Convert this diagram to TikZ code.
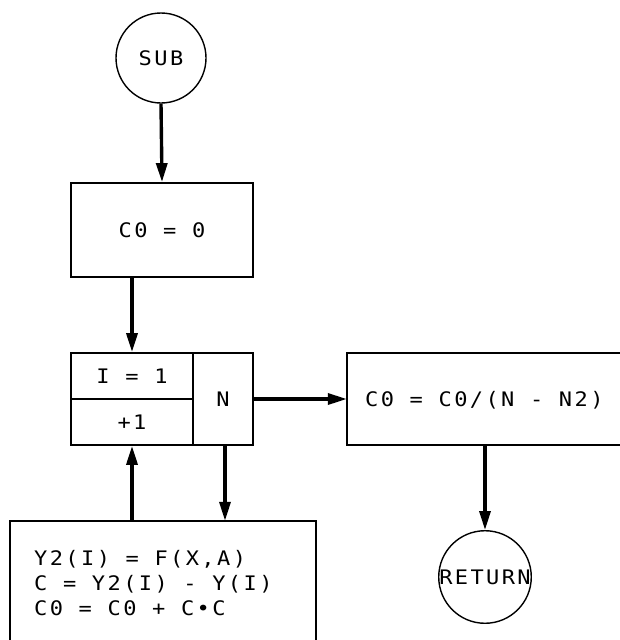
\documentclass[tikz,border=0pt]{standalone}
\usepackage{fontspec}
\usetikzlibrary{arrows.meta}
\newfontfamily\flowfont[FakeStretch=1.1,LetterSpace=12]{DejaVu Sans Mono}
\begin{document}
\begin{tikzpicture}[x=1pt,y=-1pt,
  txt/.style={font=\fontsize{20}{25}\selectfont\flowfont, inner sep=0pt},
  term/.style={circle, draw, line width=1.4pt, minimum size=90pt, inner sep=0pt, font=\fontsize{20}{25}\selectfont\flowfont},
  procbox/.style={draw, line width=1.8pt, rectangle, inner sep=0pt, font=\fontsize{20}{25}\selectfont\flowfont},
  flow/.style={line width=3.4pt, -{Triangle[length=19pt,width=11pt]}},
  side/.style={line width=1.8pt}]
\useasboundingbox (0,0) rectangle (619,640);

\node[term] (sub) at (161,58) {SUB};
\node[procbox, minimum width=182pt, minimum height=94pt] (b1) at (162,230) {C0 = 0};

\node[procbox, minimum width=122pt, minimum height=46pt] (i1) at (132,376) {I = 1};
\node[procbox, minimum width=122pt, minimum height=46pt] (inc) at (132,422) {+1};
\node[procbox, minimum width=60pt, minimum height=92pt] (n) at (223,399) {N};

% right box (open to the right)
\node[minimum width=290pt, minimum height=92pt, inner sep=0pt] (c2) at (492,399) {};
\node[txt, anchor=west] (c2t) at (365,400) {C0 = C0/(N - N2)};
\draw[side] (c2.north east) -- (c2.north west) -- (c2.south west) -- (c2.south east);

% bottom box (open at the bottom)
\node[minimum width=306pt, minimum height=140pt, inner sep=0pt] (b3) at (163,591) {};
\draw[side] (b3.south west) -- (b3.north west) -- (b3.north east) -- (b3.south east);
\node[txt, anchor=base west, align=left] (b3t) at (34,615) {Y2(I) = F(X,A)\\C = Y2(I) - Y(I)\\C0 = C0 + C•C};

\node[term] (ret) at (485,577) {RETURN};

\coordinate (nd) at ([xshift=2pt]n.south);

\draw[flow] (sub.south) -- (b1.north);
\draw[flow] (b1.south -| i1.north) -- (i1.north);
\draw[flow] (n.east) -- (c2.west);
\draw[flow] (nd) -- (b3.north -| nd);
\draw[flow] (b3.north -| inc.south) -- (inc.south);
\draw[flow] (c2.south -| ret.north) -- (ret.north);
\end{tikzpicture}
\end{document}
